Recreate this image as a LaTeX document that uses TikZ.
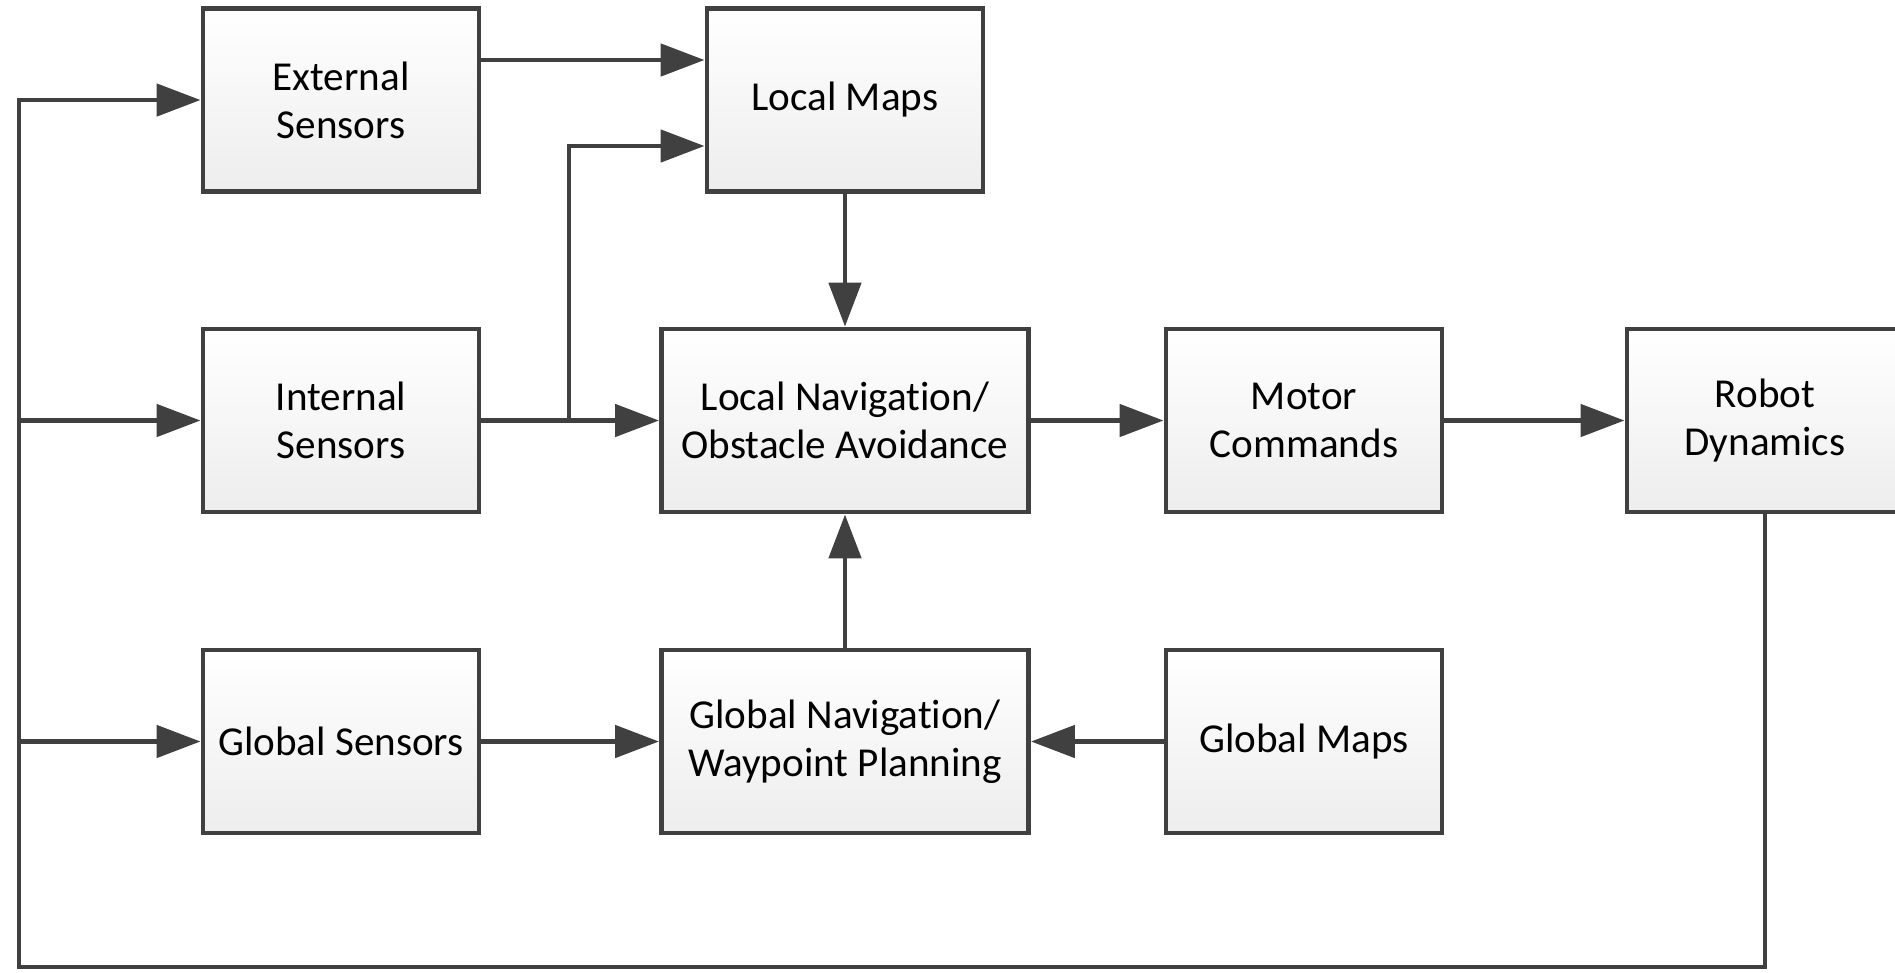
\documentclass[tikz,border=0pt]{standalone}
\usepackage{fontspec}
\setmainfont[Ligatures={NoCommon}]{Carlito}
\usetikzlibrary{arrows.meta}
\definecolor{linegray}{HTML}{404040}
\tikzset{
  blockbox/.style={draw=linegray, line width=1.4pt, rectangle, top color=white, bottom color=black!7,
    minimum width=2.76cm, minimum height=1.83cm, align=center, inner sep=0pt,
    font=\fontsize{11.7}{13.7}\selectfont},
  widebox/.style={blockbox, minimum width=3.67cm},
  flow/.style={draw=linegray, line width=1.4pt, -{Triangle[length=4.4mm, width=3.2mm]}},
  feed/.style={draw=linegray, line width=1.4pt}
}
\begin{document}
\begin{tikzpicture}
\useasboundingbox (0,0) rectangle (18.95,-9.72);
\node[blockbox] (ext) at (3.41,-1.00) {External\\Sensors};
\node[blockbox] (lmap) at (8.45,-1.00) {Local Maps};
\node[blockbox] (int) at (3.41,-4.205) {Internal\\Sensors};
\node[widebox] (lnav) at (8.45,-4.205) {Local Navigation/\\Obstacle Avoidance};
\node[blockbox] (motor) at (13.04,-4.205) {Motor\\Commands};
\node[blockbox] (robot) at (17.65,-4.205) {Robot\\Dynamics};
\node[blockbox] (gsens) at (3.41,-7.415) {Global Sensors};
\node[widebox] (gnav) at (8.45,-7.415) {Global Navigation/\\Waypoint Planning};
\node[blockbox] (gmap) at (13.04,-7.415) {Global Maps};
\coordinate (fb) at (0.19,-9.67);
\coordinate (split) at (5.69,-4.205);
% feedback loop
\draw[flow] (robot.south) |- (fb) |- (ext.west);
\draw[flow] (fb |- int.west) -- (int.west);
\draw[flow] (fb |- gsens.west) -- (gsens.west);
% forward paths
\draw[flow] ([yshift=4mm]ext.east) -- ([yshift=4mm]lmap.west);
\draw[flow] (int) -- (lnav);
\draw[flow] (split) |- ([yshift=-4.6mm]lmap.west);
\draw[flow] (lmap) -- (lnav);
\draw[flow] (gnav) -- (lnav);
\draw[flow] (gsens) -- (gnav);
\draw[flow] (gmap) -- (gnav);
\draw[flow] (lnav) -- (motor);
\draw[flow] (motor) -- (robot);
\end{tikzpicture}
\end{document}
